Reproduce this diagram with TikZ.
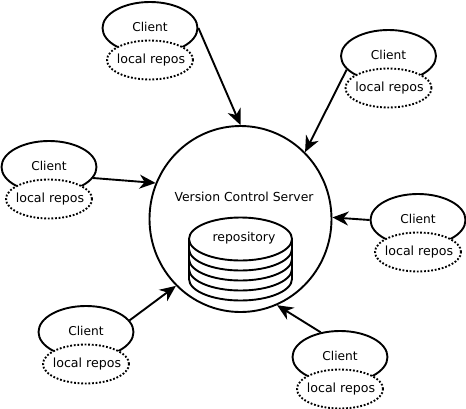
\documentclass[tikz,border=0pt]{standalone}
\usepackage{fontspec}
\setmainfont{DejaVu Sans}
\usetikzlibrary{shapes.geometric,arrows.meta}
\tikzset{
  client/.style={ellipse,draw=black,line width=1.9pt,fill=white,minimum width=95pt,minimum height=52pt,inner sep=0pt},
  repos/.style={ellipse,draw=black,line width=1.9pt,dash pattern=on 1.8pt off 1.8pt,fill=white,minimum width=86pt,minimum height=39pt,inner sep=0pt},
  conn/.style={line width=1.9pt,-{Stealth[length=16pt,width=14pt,inset=5pt]}},
  label/.style={inner sep=0pt,font=\fontsize{12.4}{14}\selectfont,text=black},
  clabel/.style={inner sep=0pt,font=\fontsize{12.2}{14}\selectfont,text=black},
  rlabel/.style={inner sep=0pt,font=\fontsize{12.6}{14}\selectfont,text=black},
  cyl/.style={line width=1.9pt,draw=black},
}
\newcommand{\clientpair}[3]{%
  \node[client] (c#1) at (#2,#3+1) {};
  \node[clabel] (t#1) at (#2,#3) {Client};
  \node[repos] (r#1) at (#2,#3+33) {};
  \node[rlabel] (l#1) at (#2+1,#3+33) {local repos};
}
\begin{document}
\begin{tikzpicture}[x=1pt,y=-1pt]
\useasboundingbox (0,0) rectangle (466,408);
\fill[white] (0,0) rectangle (466,408);
\node[ellipse,draw=black,line width=1.9pt,fill=white,minimum width=182pt,minimum height=186pt,inner sep=0pt] (server) at (240.5,219) {};
\node[label] (title) at (244,197) {Version Control Server};
\foreach \y in {40,30,20,10} {
  \draw[cyl,fill=white] (189,239+\y) -- (189,239) -- (292,239) -- (292,239+\y) arc[start angle=0,end angle=180,x radius=51.5,y radius=21.5];
}
\node[ellipse,cyl,fill=white,minimum width=103pt,minimum height=43pt,inner sep=0pt] (repo) at (240.5,239) {};
\node[label] (repotext) at (244,238.5) {repository};
\clientpair{1}{150}{27}
\clientpair{2}{388.5}{55}
\clientpair{3}{49}{166}
\clientpair{4}{418}{219}
\clientpair{5}{86}{331}
\clientpair{6}{340}{356}
\draw[conn] (c1.east) -- (server.north);
\draw[conn] (c2.198) -- (server.46.5);
\draw[conn] (c3.346) -- (server.157);
\draw[conn] (c4.west) -- (server.1);
\draw[conn] (c5.15) -- (server.226);
\draw[conn] (c6.128) -- (server.293.6);
\end{tikzpicture}
\end{document}
